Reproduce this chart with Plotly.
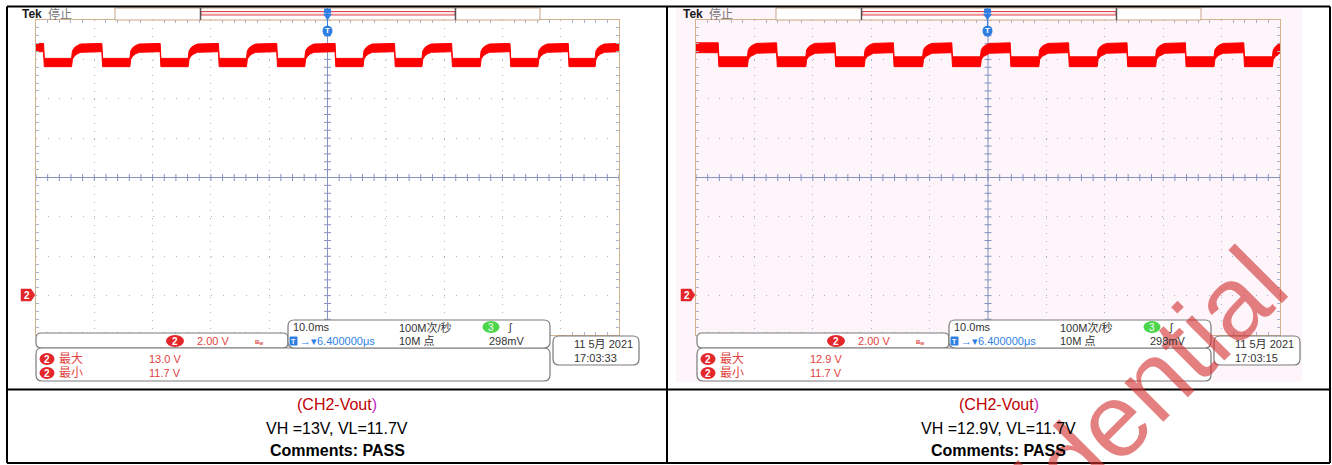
import plotly.graph_objects as go

W, H = 1332, 465

# ---------------- data ----------------
time_range_ms = [0, 100]          # 10 divisions x 10.0 ms
volt_range = [-2, 14]             # 8 divisions x 2.00 V, CH2 ground at 0 V

left_fall_ms = [1.3, 11.3, 21.3, 31.3, 41.3, 51.3, 61.5, 71.3, 81.3, 91.3]
left_rise_ms = [6.1, 16.1, 26.1, 36.1, 46.1, 56.1, 66.2, 76.2, 86.1, 95.9]
left_high_band_v = [12.39, 12.81]
left_low_band_v = [11.63, 12.05]

right_fall_ms = [3.8, 13.8, 23.8, 33.8, 43.8, 53.8, 63.8, 73.8, 83.8, 93.8]
right_rise_ms = [8.8, 18.8, 28.8, 38.8, 48.7, 58.7, 68.7, 78.7, 88.7, 98.7]
right_high_band_v = [12.34, 12.84]
right_low_band_v = [11.63, 12.13]

# shape of the trace just after a rising edge: ms after the edge, share of the step reached
rise_offset_ms = [0.0, 0.15, 0.5, 1.0, 1.6]
rise_share = [0.0, 0.5, 0.72, 0.86, 0.96]
fall_width_ms = 0.12

left_meas = {"max": "13.0 V", "min": "11.7 V", "time": "17:03:33"}
right_meas = {"max": "12.9 V", "min": "11.7 V", "time": "17:03:15"}
captions_vh = ["VH =13V, VL=11.7V", "VH =12.9V, VL=11.7V"]

# ---------------- helpers ----------------
def X(px):
    return px / W

def Y(py):
    return 1 - py / H

def band(falls, rises, low, high):
    events = sorted([(t, "f") for t in falls] + [(t, "r") for t in rises])
    ts, up, lo = [time_range_ms[0]], [high[1]], [high[0]]
    for t, kind in events:
        if kind == "f":
            ts += [t, t + fall_width_ms]
            up += [high[1], low[1]]
            lo += [high[0], low[0]]
        else:
            for off, s in zip(rise_offset_ms, rise_share):
                ts.append(t + off)
                up.append(low[1] + s * (high[1] - low[1]))
                lo.append(low[0] + s * (high[0] - low[0]))
    state_high = events[-1][1] == "r"
    keep = [i for i, t in enumerate(ts) if t <= time_range_ms[1]]
    ts = [ts[i] for i in keep]
    up = [up[i] for i in keep]
    lo = [lo[i] for i in keep]
    ts.append(time_range_ms[1])
    up.append(high[1] if state_high else low[1])
    lo.append(high[0] if state_high else low[0])
    return ts + ts[::-1], up + lo[::-1]

shapes = []
annotations = []

def rect(x0, y0, x1, y1, line="black", width=1, fill=None, layer="above"):
    shapes.append(dict(type="rect", xref="paper", yref="paper", x0=X(x0), x1=X(x1),
                       y0=Y(y1), y1=Y(y0), line=dict(color=line, width=width),
                       fillcolor=fill if fill else "rgba(0,0,0,0)", layer=layer))

def line(x0, y0, x1, y1, color="black", width=1, layer="above"):
    shapes.append(dict(type="line", xref="paper", yref="paper", x0=X(x0), x1=X(x1),
                       y0=Y(y0), y1=Y(y1), line=dict(color=color, width=width), layer=layer))

def rrect(x0, y0, x1, y1, r, color="#7a7a7a", fill="white", width=1.2):
    p = (f"M {X(x0 + r)},{Y(y0)} L {X(x1 - r)},{Y(y0)} Q {X(x1)},{Y(y0)} {X(x1)},{Y(y0 + r)} "
         f"L {X(x1)},{Y(y1 - r)} Q {X(x1)},{Y(y1)} {X(x1 - r)},{Y(y1)} "
         f"L {X(x0 + r)},{Y(y1)} Q {X(x0)},{Y(y1)} {X(x0)},{Y(y1 - r)} "
         f"L {X(x0)},{Y(y0 + r)} Q {X(x0)},{Y(y0)} {X(x0 + r)},{Y(y0)} Z")
    shapes.append(dict(type="path", xref="paper", yref="paper", path=p,
                       line=dict(color=color, width=width), fillcolor=fill, layer="above"))

def poly(pts, fill, color=None):
    p = "M " + " L ".join(f"{X(a)},{Y(b)}" for a, b in pts) + " Z"
    shapes.append(dict(type="path", xref="paper", yref="paper", path=p,
                       line=dict(color=color or fill, width=0.5), fillcolor=fill, layer="above"))

def ell(cx, cy, w, h, fill):
    shapes.append(dict(type="circle", xref="paper", yref="paper", x0=X(cx - w / 2), x1=X(cx + w / 2),
                       y0=Y(cy + h / 2), y1=Y(cy - h / 2), line=dict(color=fill, width=0),
                       fillcolor=fill, layer="above"))

UIF = "Liberation Sans, Noto Sans CJK SC, sans-serif"

def txt(x, y, s, size=11, color="#333333", anchor="left", family=UIF, angle=0):
    annotations.append(dict(x=X(x), y=Y(y), xref="paper", yref="paper", text=s, showarrow=False,
                            xanchor=anchor, yanchor="middle", textangle=angle,
                            font=dict(size=size, color=color, family=family)))

# ---------------- watermark (drawn first, under the texts) ----------------
txt(1073, 461, "Confidential", size=104, color="rgba(212,50,50,0.62)", anchor="center",
    family="Liberation Sans, Arial, sans-serif", angle=-45)

# ---------------- screenshot backgrounds ----------------
rect(676, 8, 1302, 382, line="rgba(0,0,0,0)", width=0, fill="#fdf5fa", layer="below")

GRID = "#a9b1cc"
CENTER = "#8494bf"
BORDER = "#d3b38f"
RED = "#ff0000"
TXTRED = "#e2413d"
BLUE = "#2f7fe3"

fig = go.Figure()

screens = [
    dict(ox=0, ux=0, xa="x", ya="y", falls=left_fall_ms, rises=left_rise_ms,
         low=left_low_band_v, high=left_high_band_v, meas=left_meas),
    dict(ox=660, ux=661, xa="x2", ya="y2", falls=right_fall_ms, rises=right_rise_ms,
         low=right_low_band_v, high=right_high_band_v, meas=right_meas),
]

for s in screens:
    ox, ux = s["ox"], s["ux"]
    mid_t = (time_range_ms[0] + time_range_ms[1]) / 2
    mid_v = (volt_range[0] + volt_range[1]) / 2
    # centre cross-hair with its sub-division ticks
    tx = [time_range_ms[0] + i * 2 for i in range(51)]
    vy = [volt_range[0] + i * 0.4 for i in range(41)]
    fig.add_trace(go.Scatter(x=[time_range_ms[0], time_range_ms[1]], y=[mid_v, mid_v], mode="lines",
                             line=dict(color=CENTER, width=1), xaxis=s["xa"], yaxis=s["ya"],
                             hoverinfo="skip", showlegend=False))
    fig.add_trace(go.Scatter(x=[mid_t, mid_t], y=[volt_range[0], volt_range[1]], mode="lines",
                             line=dict(color=CENTER, width=1), xaxis=s["xa"], yaxis=s["ya"],
                             hoverinfo="skip", showlegend=False))
    fig.add_trace(go.Scatter(x=tx, y=[mid_v] * len(tx), mode="markers",
                             marker=dict(symbol="line-ns-open", size=5, color=CENTER,
                                         line=dict(color=CENTER, width=1)),
                             xaxis=s["xa"], yaxis=s["ya"], hoverinfo="skip", showlegend=False))
    fig.add_trace(go.Scatter(x=[mid_t] * len(vy), y=vy, mode="markers",
                             marker=dict(symbol="line-ew-open", size=5, color=CENTER,
                                         line=dict(color=CENTER, width=1)),
                             xaxis=s["xa"], yaxis=s["ya"], hoverinfo="skip", showlegend=False))
    bx, by = band(s["falls"], s["rises"], s["low"], s["high"])
    fig.add_trace(go.Scatter(x=bx, y=by, mode="lines", fill="toself", fillcolor=RED,
                             line=dict(color=RED, width=1), xaxis=s["xa"], yaxis=s["ya"],
                             hoverinfo="skip", showlegend=False))

    # top bar
    txt(20 + ux, 14, "<b>Tek</b>", size=12, color="#1a1a1a")
    txt(46 + ux, 14, "停止", size=12, color="#777777")
    rect(115 + ux, 8, 540 + ux, 20, line="#c9a383", width=1, fill="white")
    rect(201 + ux, 11.5, 455 + ux, 15, line="#e0444a", width=1, fill="#fbe3e6")
    line(200.5 + ux, 8, 200.5 + ux, 20, color="#555555", width=1.5)
    line(455.5 + ux, 8, 455.5 + ux, 20, color="#555555", width=1.5)
    # trigger position markers
    tx0 = 327.5 + ox
    line(tx0, 8, tx0, 36, color=BLUE, width=1)
    rect(tx0 - 3, 9, tx0 + 3, 13, line=BLUE, width=1, fill=BLUE)
    poly([(tx0 - 4, 14), (tx0 + 4, 14), (tx0, 20)], BLUE)
    ell(tx0, 31, 10, 11, BLUE)
    txt(tx0, 31, "<b>T</b>", size=8, color="white", anchor="center")
    # CH2 ground marker
    poly([(21 + ox, 289), (31 + ox, 289), (35 + ox, 295), (31 + ox, 301), (21 + ox, 301)], "#e3262a")
    txt(26.5 + ox, 295.5, "<b>2</b>", size=10, color="white", anchor="center")

    # bottom read-out boxes
    rrect(36 + ux, 333, 288 + ux, 348, 5)
    rrect(36 + ux, 348, 550 + ux, 381, 6)
    rrect(288 + ux, 320, 550 + ux, 348, 6)
    rrect(553 + ux, 336, 639 + ux, 365, 6)

    ell(175 + ux, 341, 18, 12, "#e3262a")
    txt(175 + ux, 341, "<b>2</b>", size=10, color="white", anchor="center")
    txt(195 + ux, 341, "2.00 V", size=11, color=TXTRED)
    txt(253 + ux, 342, "<b>B<sub>W</sub></b>", size=6, color=TXTRED)

    txt(291 + ux, 327, "10.0ms", size=11, color="#333333")
    txt(397 + ux, 327, "100M次/秒", size=11, color="#333333")
    ell(491 + ux, 327, 17, 12, "#4cd64c")
    txt(491 + ux, 327, "3", size=10, color="white", anchor="center")
    txt(506 + ux, 327, "ʃ", size=11, color="#333333")
    rect(290 + ux, 337, 297 + ux, 345, line=BLUE, width=1, fill=BLUE)
    txt(293.5 + ux, 341, "<b>T</b>", size=7, color="white", anchor="center")
    txt(298 + ux, 341, "→▾6.400000μs", size=11, color=BLUE)
    txt(397 + ux, 341, "10M 点", size=11, color="#333333")
    txt(487 + ux, 341, "298mV", size=11, color="#333333")

    for yy, lab, val in [(359, "最大", s["meas"]["max"]), (373, "最小", s["meas"]["min"])]:
        ell(47 + ux, yy, 15, 12, "#e3262a")
        txt(47 + ux, yy, "<b>2</b>", size=10, color="white", anchor="center")
        txt(57 + ux, yy, lab, size=12, color=TXTRED)
        txt(147 + ux, yy, val, size=11, color=TXTRED)

    txt(572 + ux, 344, "11 5月 2021", size=11, color="#333333")
    txt(572 + ux, 358, s["meas"]["time"], size=11, color="#333333")

# ---------------- captions ----------------
CAPF = "Liberation Sans, Arial, sans-serif"
for cx, vh in zip([337, 998.5], captions_vh):
    txt(cx, 404, "<span style='color:#c00000'>(CH2-Vout</span><span style='color:#c02cc0'>)</span>",
        size=16, color="#c00000", anchor="center", family=CAPF)
    txt(cx, 428, vh, size=16, color="#000000", anchor="center", family=CAPF)
    txt(cx, 450, "<b>Comments: PASS</b>", size=16, color="#000000", anchor="center", family=CAPF)

# ---------------- table borders ----------------
line(7, 6.5, 1330, 6.5, width=2)
line(7, 463, 1330, 463, width=2)
line(7, 389.5, 1330, 389.5, width=2)
line(7, 6.5, 7, 463, width=2)
line(1330, 6.5, 1330, 463, width=2)
line(667, 6.5, 667, 463, width=2)

def xaxis_cfg(x0, x1):
    return dict(domain=[X(x0), X(x1)], range=time_range_ms, tick0=0, dtick=10,
                showgrid=True, gridcolor=GRID, gridwidth=1, griddash="1px,6.9px",
                zeroline=False, showticklabels=False, ticks="",
                showline=True, linecolor=BORDER, linewidth=1, mirror="ticks",
                minor=dict(dtick=2, tick0=0, ticks="inside", ticklen=3, tickcolor=GRID, showgrid=False),
                fixedrange=True)

def yaxis_cfg(anchor):
    return dict(domain=[Y(335), Y(20)], range=volt_range, tick0=0, dtick=2,
                showgrid=True, gridcolor=GRID, gridwidth=1, griddash="1px,10.66px",
                zeroline=False, showticklabels=False, ticks="",
                showline=True, linecolor=BORDER, linewidth=1, mirror="ticks",
                minor=dict(dtick=0.4, tick0=0, ticks="inside", ticklen=3, tickcolor=GRID, showgrid=False),
                anchor=anchor, fixedrange=True)

fig.update_layout(
    width=W, height=H, margin=dict(l=0, r=0, t=0, b=0),
    paper_bgcolor="white", plot_bgcolor="rgba(0,0,0,0)",
    xaxis=dict(xaxis_cfg(36, 619), anchor="y"),
    yaxis=yaxis_cfg("x"),
    xaxis2=dict(xaxis_cfg(696, 1280), anchor="y2"),
    yaxis2=yaxis_cfg("x2"),
    shapes=shapes, annotations=annotations, showlegend=False,
)

fig.write_html("out.html", config={"displayModeBar": False},
               post_script="document.body.style.margin='0';document.body.style.overflow='hidden';")
